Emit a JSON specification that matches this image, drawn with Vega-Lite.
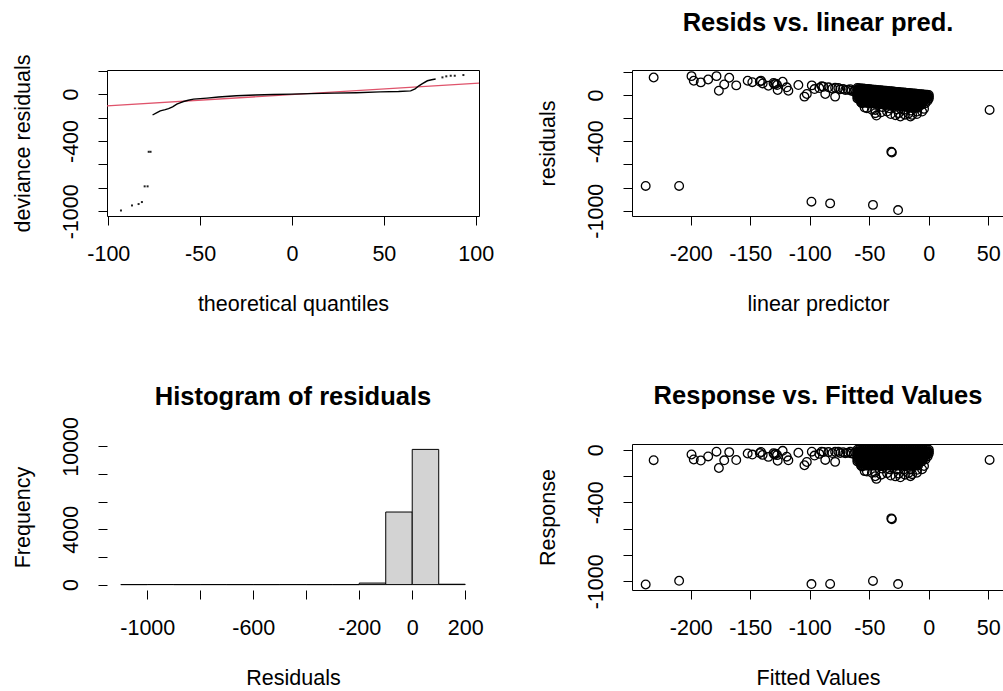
{
  "$schema": "https://vega.github.io/schema/vega-lite/v6.json",
  "background": "white",
  "padding": {"left": 11, "top": 10, "right": 0, "bottom": 0},
  "config": {
    "font": "Liberation Sans",
    "view": {"stroke": "black", "strokeWidth": 1},
    "axis": {"domain": false, "ticks": true, "tickColor": "black", "tickSize": 9, "tickWidth": 1, "labelFont": "Liberation Sans", "labelFontSize": 21.5, "labelColor": "black", "titleFont": "Liberation Sans", "titleFontSize": 21.5, "titleFontWeight": "normal", "titleColor": "black", "grid": false, "labelFlush": false, "labelOverlap": false, "labelBound": false},
    "axisX": {"labelBaseline": "middle", "labelAlign": "center", "labelAngle": 0, "labelPadding": 29, "titleY": 88, "titleBaseline": "middle"},
    "axisY": {"labelAngle": 270, "labelAlign": "center", "labelBaseline": "middle", "labelPadding": 27, "titleX": -84, "titleAngle": 270, "titleBaseline": "middle", "titleAlign": "center"},
    "title": {"font": "Liberation Sans", "fontSize": 25.5, "fontWeight": "bold", "color": "black", "frame": "group", "anchor": "middle", "baseline": "middle", "offset": 33}
  },
  "datasets": {
    "qqline": [{"q": -100.7, "r": -100}, {"q": 101.8, "r": 94.4}],
    "qqcurve": [
      {"q": -75.9, "r": -178}, {"q": -73.5, "r": -158}, {"q": -71.7, "r": -143}, {"q": -69, "r": -132}, {"q": -67.2, "r": -123}, {"q": -65, "r": -108}, {"q": -62.7, "r": -86}, {"q": -61, "r": -74}, {"q": -59, "r": -63}, {"q": -56.5, "r": -52}, {"q": -53.6, "r": -43}, {"q": -50, "r": -38}, {"q": -46.3, "r": -34}, {"q": -40, "r": -25}, {"q": -30.2, "r": -14}, {"q": -20, "r": -7}, {"q": -10, "r": -3}, {"q": 0, "r": 0}, {"q": 10, "r": 4}, {"q": 23, "r": 9}, {"q": 35, "r": 12}, {"q": 48, "r": 19}, {"q": 58, "r": 23}, {"q": 64.6, "r": 28}, {"q": 67, "r": 45}, {"q": 69.1, "r": 71}, {"q": 71, "r": 90}, {"q": 73.7, "r": 114}, {"q": 76, "r": 123}, {"q": 78.2, "r": 129}
    ],
    "qqdots": [
      {"q": -93.1, "r": -993}, {"q": -87.1, "r": -950}, {"q": -83.5, "r": -938}, {"q": -81.7, "r": -921}, {"q": -80.2, "r": -787}, {"q": -78.6, "r": -787}, {"q": -78, "r": -492}, {"q": -77, "r": -492}, {"q": 81.9, "r": 143}, {"q": 84, "r": 152}, {"q": 86.4, "r": 157}, {"q": 88.6, "r": 157}, {"q": 93.3, "r": 163}
    ],
    "hist": [
      {"lo": -1100, "hi": -1000, "n": 0}, {"lo": -1000, "hi": -900, "n": 5}, {"lo": -900, "hi": -800, "n": 0}, {"lo": -800, "hi": -700, "n": 2}, {"lo": -700, "hi": -600, "n": 0}, {"lo": -600, "hi": -500, "n": 0}, {"lo": -500, "hi": -400, "n": 2}, {"lo": -400, "hi": -300, "n": 0}, {"lo": -300, "hi": -200, "n": 0}, {"lo": -200, "hi": -100, "n": 110}, {"lo": -100, "hi": 0, "n": 5250}, {"lo": 0, "hi": 100, "n": 9780}, {"lo": 100, "hi": 200, "n": 25}
    ],
    "fit": [
      {"fit": -237.9, "resid": -786, "resp": -1024}, {"fit": -209.8, "resid": -786, "resp": -996}, {"fit": -231.2, "resid": 151, "resp": -80}, {"fit": -98.6, "resid": -922, "resp": -1021}, {"fit": -82.9, "resid": -937, "resp": -1020}, {"fit": -46.9, "resid": -950, "resp": -997}, {"fit": -25.8, "resid": -995, "resp": -1021}, {"fit": -31.5, "resid": -490, "resp": -522}, {"fit": -31, "resid": -497, "resp": -528}, {"fit": 51.1, "resid": -129, "resp": -78},
      {"fit": -199.4, "resid": 163, "resp": -36.4}, {"fit": -197.5, "resid": 123, "resp": -74.5}, {"fit": -191.6, "resid": 109, "resp": -82.6}, {"fit": -185.4, "resid": 134, "resp": -51.4}, {"fit": -178.4, "resid": 163, "resp": -15.4}, {"fit": -176.4, "resid": 37, "resp": -139.4}, {"fit": -171.9, "resid": 91, "resp": -80.9}, {"fit": -167.7, "resid": 149, "resp": -18.7}, {"fit": -161.8, "resid": 83, "resp": -78.8}, {"fit": -152.2, "resid": 123, "resp": -29.2}, {"fit": -148.3, "resid": 111, "resp": -37.3}, {"fit": -142, "resid": 116, "resp": -26}, {"fit": -141, "resid": 123, "resp": -18}, {"fit": -139.6, "resid": 100, "resp": -39.6}, {"fit": -134.8, "resid": 80, "resp": -54.8}, {"fit": -130.5, "resid": 104, "resp": -26.5}, {"fit": -129.8, "resid": 94, "resp": -35.8}, {"fit": -128.5, "resid": 98, "resp": -30.5}, {"fit": -127.5, "resid": 86, "resp": -41.5}, {"fit": -127, "resid": 43, "resp": -84}, {"fit": -122.8, "resid": 114, "resp": -8.8}, {"fit": -119.4, "resid": 66, "resp": -53.4}, {"fit": -118, "resid": 37, "resp": -81}, {"fit": -109.6, "resid": 86, "resp": -23.6}, {"fit": -104.5, "resid": -14, "resp": -118.5}, {"fit": -102.5, "resid": 9, "resp": -93.5}, {"fit": -98.3, "resid": 83, "resp": -15.3}, {"fit": -96, "resid": 51, "resp": -45}, {"fit": -92, "resid": 60, "resp": -32}, {"fit": -90, "resid": 75, "resp": -15}, {"fit": -88.5, "resid": 71, "resp": -17.5}, {"fit": -87, "resid": 9, "resp": -78}, {"fit": -84.3, "resid": 66, "resp": -18.3}, {"fit": -81, "resid": 55, "resp": -26}, {"fit": -78.7, "resid": -14, "resp": -92.7}, {"fit": -78.7, "resid": 63, "resp": -15.7}, {"fit": -76, "resid": 60, "resp": -16}, {"fit": -74.4, "resid": 49, "resp": -25.4}, {"fit": -72, "resid": 52, "resp": -20}, {"fit": -70.2, "resid": 43, "resp": -27.2}, {"fit": -68, "resid": 45, "resp": -23}, {"fit": -66, "resid": 50, "resp": -16}, {"fit": -65.2, "resid": 37, "resp": -28.2}, {"fit": -63, "resid": 30, "resp": -33}, {"fit": -62, "resid": 40, "resp": -22},
      {"fit": -60, "resid": 60, "resp": 0}, {"fit": -60, "resid": 30, "resp": -30}, {"fit": -60, "resid": 0, "resp": -60}, {"fit": -60, "resid": -30, "resp": -90},
      {"fit": -57, "resid": 57, "resp": 0}, {"fit": -57, "resid": 27, "resp": -30}, {"fit": -57, "resid": -3, "resp": -60}, {"fit": -57, "resid": -33, "resp": -90}, {"fit": -57, "resid": -63, "resp": -120},
      {"fit": -54, "resid": 54, "resp": 0}, {"fit": -54, "resid": 24, "resp": -30}, {"fit": -54, "resid": -6, "resp": -60}, {"fit": -54, "resid": -36, "resp": -90}, {"fit": -54, "resid": -66, "resp": -120},
      {"fit": -51, "resid": 51, "resp": 0}, {"fit": -51, "resid": 21, "resp": -30}, {"fit": -51, "resid": -9, "resp": -60}, {"fit": -51, "resid": -39, "resp": -90}, {"fit": -51, "resid": -69, "resp": -120},
      {"fit": -48, "resid": 48, "resp": 0}, {"fit": -48, "resid": 18, "resp": -30}, {"fit": -48, "resid": -12, "resp": -60}, {"fit": -48, "resid": -42, "resp": -90}, {"fit": -48, "resid": -72, "resp": -120},
      {"fit": -45, "resid": 45, "resp": 0}, {"fit": -45, "resid": 15, "resp": -30}, {"fit": -45, "resid": -15, "resp": -60}, {"fit": -45, "resid": -45, "resp": -90}, {"fit": -45, "resid": -75, "resp": -120},
      {"fit": -42, "resid": 42, "resp": 0}, {"fit": -42, "resid": 12, "resp": -30}, {"fit": -42, "resid": -18, "resp": -60}, {"fit": -42, "resid": -48, "resp": -90}, {"fit": -42, "resid": -78, "resp": -120},
      {"fit": -39, "resid": 39, "resp": 0}, {"fit": -39, "resid": 9, "resp": -30}, {"fit": -39, "resid": -21, "resp": -60}, {"fit": -39, "resid": -51, "resp": -90}, {"fit": -39, "resid": -81, "resp": -120}, {"fit": -39, "resid": -105, "resp": -144},
      {"fit": -36, "resid": 36, "resp": 0}, {"fit": -36, "resid": 6, "resp": -30}, {"fit": -36, "resid": -24, "resp": -60}, {"fit": -36, "resid": -54, "resp": -90}, {"fit": -36, "resid": -84, "resp": -120},
      {"fit": -33, "resid": 33, "resp": 0}, {"fit": -33, "resid": 3, "resp": -30}, {"fit": -33, "resid": -27, "resp": -60}, {"fit": -33, "resid": -57, "resp": -90}, {"fit": -33, "resid": -87, "resp": -120}, {"fit": -33, "resid": -115, "resp": -148},
      {"fit": -30, "resid": 30, "resp": 0}, {"fit": -30, "resid": 0, "resp": -30}, {"fit": -30, "resid": -30, "resp": -60}, {"fit": -30, "resid": -60, "resp": -90}, {"fit": -30, "resid": -90, "resp": -120},
      {"fit": -27, "resid": 27, "resp": 0}, {"fit": -27, "resid": -3, "resp": -30}, {"fit": -27, "resid": -33, "resp": -60}, {"fit": -27, "resid": -63, "resp": -90}, {"fit": -27, "resid": -93, "resp": -120}, {"fit": -27, "resid": -123, "resp": -150},
      {"fit": -24, "resid": 24, "resp": 0}, {"fit": -24, "resid": -6, "resp": -30}, {"fit": -24, "resid": -36, "resp": -60}, {"fit": -24, "resid": -66, "resp": -90}, {"fit": -24, "resid": -96, "resp": -120},
      {"fit": -21, "resid": 21, "resp": 0}, {"fit": -21, "resid": -9, "resp": -30}, {"fit": -21, "resid": -39, "resp": -60}, {"fit": -21, "resid": -69, "resp": -90}, {"fit": -21, "resid": -99, "resp": -120}, {"fit": -21, "resid": -129, "resp": -150},
      {"fit": -18, "resid": 18, "resp": 0}, {"fit": -18, "resid": -12, "resp": -30}, {"fit": -18, "resid": -42, "resp": -60}, {"fit": -18, "resid": -72, "resp": -90}, {"fit": -18, "resid": -102, "resp": -120},
      {"fit": -15, "resid": 15, "resp": 0}, {"fit": -15, "resid": -15, "resp": -30}, {"fit": -15, "resid": -45, "resp": -60}, {"fit": -15, "resid": -75, "resp": -90}, {"fit": -15, "resid": -105, "resp": -120}, {"fit": -15, "resid": -135, "resp": -150},
      {"fit": -12, "resid": 12, "resp": 0}, {"fit": -12, "resid": -18, "resp": -30}, {"fit": -12, "resid": -48, "resp": -60}, {"fit": -12, "resid": -78, "resp": -90}, {"fit": -12, "resid": -108, "resp": -120},
      {"fit": -9, "resid": 9, "resp": 0}, {"fit": -9, "resid": -21, "resp": -30}, {"fit": -9, "resid": -51, "resp": -60}, {"fit": -9, "resid": -81, "resp": -90}, {"fit": -9, "resid": -111, "resp": -120},
      {"fit": -6, "resid": 6, "resp": 0}, {"fit": -6, "resid": -24, "resp": -30}, {"fit": -6, "resid": -54, "resp": -60}, {"fit": -6, "resid": -84, "resp": -90},
      {"fit": -3, "resid": 3, "resp": 0}, {"fit": -3, "resid": -27, "resp": -30}, {"fit": -3, "resid": -57, "resp": -60},
      {"fit": 0, "resid": 0, "resp": 0}, {"fit": 0, "resid": -30, "resp": -30},
      {"fit": -58.5, "resid": 43.5, "resp": -15}, {"fit": -58.5, "resid": 13.5, "resp": -45}, {"fit": -58.5, "resid": -16.5, "resp": -75},
      {"fit": -55.5, "resid": 40.5, "resp": -15}, {"fit": -55.5, "resid": 10.5, "resp": -45}, {"fit": -55.5, "resid": -19.5, "resp": -75}, {"fit": -55.5, "resid": -49.5, "resp": -105},
      {"fit": -52.5, "resid": 37.5, "resp": -15}, {"fit": -52.5, "resid": 7.5, "resp": -45}, {"fit": -52.5, "resid": -22.5, "resp": -75}, {"fit": -52.5, "resid": -52.5, "resp": -105},
      {"fit": -49.5, "resid": 34.5, "resp": -15}, {"fit": -49.5, "resid": 4.5, "resp": -45}, {"fit": -49.5, "resid": -25.5, "resp": -75}, {"fit": -49.5, "resid": -55.5, "resp": -105},
      {"fit": -46.5, "resid": 31.5, "resp": -15}, {"fit": -46.5, "resid": 1.5, "resp": -45}, {"fit": -46.5, "resid": -28.5, "resp": -75}, {"fit": -46.5, "resid": -58.5, "resp": -105},
      {"fit": -43.5, "resid": 28.5, "resp": -15}, {"fit": -43.5, "resid": -1.5, "resp": -45}, {"fit": -43.5, "resid": -31.5, "resp": -75}, {"fit": -43.5, "resid": -61.5, "resp": -105},
      {"fit": -40.5, "resid": 25.5, "resp": -15}, {"fit": -40.5, "resid": -4.5, "resp": -45}, {"fit": -40.5, "resid": -34.5, "resp": -75}, {"fit": -40.5, "resid": -64.5, "resp": -105},
      {"fit": -37.5, "resid": 22.5, "resp": -15}, {"fit": -37.5, "resid": -7.5, "resp": -45}, {"fit": -37.5, "resid": -37.5, "resp": -75}, {"fit": -37.5, "resid": -67.5, "resp": -105},
      {"fit": -34.5, "resid": 19.5, "resp": -15}, {"fit": -34.5, "resid": -10.5, "resp": -45}, {"fit": -34.5, "resid": -40.5, "resp": -75}, {"fit": -34.5, "resid": -70.5, "resp": -105},
      {"fit": -31.5, "resid": 16.5, "resp": -15}, {"fit": -31.5, "resid": -13.5, "resp": -45}, {"fit": -31.5, "resid": -43.5, "resp": -75}, {"fit": -31.5, "resid": -73.5, "resp": -105},
      {"fit": -28.5, "resid": 13.5, "resp": -15}, {"fit": -28.5, "resid": -16.5, "resp": -45}, {"fit": -28.5, "resid": -46.5, "resp": -75}, {"fit": -28.5, "resid": -76.5, "resp": -105},
      {"fit": -25.5, "resid": 10.5, "resp": -15}, {"fit": -25.5, "resid": -19.5, "resp": -45}, {"fit": -25.5, "resid": -49.5, "resp": -75}, {"fit": -25.5, "resid": -79.5, "resp": -105},
      {"fit": -22.5, "resid": 7.5, "resp": -15}, {"fit": -22.5, "resid": -22.5, "resp": -45}, {"fit": -22.5, "resid": -52.5, "resp": -75}, {"fit": -22.5, "resid": -82.5, "resp": -105},
      {"fit": -19.5, "resid": 4.5, "resp": -15}, {"fit": -19.5, "resid": -25.5, "resp": -45}, {"fit": -19.5, "resid": -55.5, "resp": -75}, {"fit": -19.5, "resid": -85.5, "resp": -105},
      {"fit": -16.5, "resid": 1.5, "resp": -15}, {"fit": -16.5, "resid": -28.5, "resp": -45}, {"fit": -16.5, "resid": -58.5, "resp": -75}, {"fit": -16.5, "resid": -88.5, "resp": -105},
      {"fit": -13.5, "resid": -1.5, "resp": -15}, {"fit": -13.5, "resid": -31.5, "resp": -45}, {"fit": -13.5, "resid": -61.5, "resp": -75}, {"fit": -13.5, "resid": -91.5, "resp": -105},
      {"fit": -10.5, "resid": -4.5, "resp": -15}, {"fit": -10.5, "resid": -34.5, "resp": -45}, {"fit": -10.5, "resid": -64.5, "resp": -75}, {"fit": -10.5, "resid": -94.5, "resp": -105},
      {"fit": -7.5, "resid": -7.5, "resp": -15}, {"fit": -7.5, "resid": -37.5, "resp": -45}, {"fit": -7.5, "resid": -67.5, "resp": -75},
      {"fit": -4.5, "resid": -10.5, "resp": -15}, {"fit": -4.5, "resid": -40.5, "resp": -45},
      {"fit": -1.5, "resid": -13.5, "resp": -15},
      {"fit": -60, "resid": 45, "resp": -15}, {"fit": -60, "resid": 15, "resp": -45}, {"fit": -60, "resid": -15, "resp": -75},
      {"fit": -57, "resid": 42, "resp": -15}, {"fit": -57, "resid": 12, "resp": -45}, {"fit": -57, "resid": -18, "resp": -75}, {"fit": -57, "resid": -48, "resp": -105},
      {"fit": -54, "resid": 39, "resp": -15}, {"fit": -54, "resid": 9, "resp": -45}, {"fit": -54, "resid": -21, "resp": -75}, {"fit": -54, "resid": -51, "resp": -105},
      {"fit": -51, "resid": 36, "resp": -15}, {"fit": -51, "resid": 6, "resp": -45}, {"fit": -51, "resid": -24, "resp": -75}, {"fit": -51, "resid": -54, "resp": -105},
      {"fit": -48, "resid": 33, "resp": -15}, {"fit": -48, "resid": 3, "resp": -45}, {"fit": -48, "resid": -27, "resp": -75}, {"fit": -48, "resid": -57, "resp": -105},
      {"fit": -45, "resid": 30, "resp": -15}, {"fit": -45, "resid": 0, "resp": -45}, {"fit": -45, "resid": -30, "resp": -75}, {"fit": -45, "resid": -60, "resp": -105},
      {"fit": -42, "resid": 27, "resp": -15}, {"fit": -42, "resid": -3, "resp": -45}, {"fit": -42, "resid": -33, "resp": -75}, {"fit": -42, "resid": -63, "resp": -105},
      {"fit": -39, "resid": 24, "resp": -15}, {"fit": -39, "resid": -6, "resp": -45}, {"fit": -39, "resid": -36, "resp": -75}, {"fit": -39, "resid": -66, "resp": -105},
      {"fit": -36, "resid": 21, "resp": -15}, {"fit": -36, "resid": -9, "resp": -45}, {"fit": -36, "resid": -39, "resp": -75}, {"fit": -36, "resid": -69, "resp": -105},
      {"fit": -33, "resid": 18, "resp": -15}, {"fit": -33, "resid": -12, "resp": -45}, {"fit": -33, "resid": -42, "resp": -75}, {"fit": -33, "resid": -72, "resp": -105},
      {"fit": -30, "resid": 15, "resp": -15}, {"fit": -30, "resid": -15, "resp": -45}, {"fit": -30, "resid": -45, "resp": -75}, {"fit": -30, "resid": -75, "resp": -105},
      {"fit": -27, "resid": 12, "resp": -15}, {"fit": -27, "resid": -18, "resp": -45}, {"fit": -27, "resid": -48, "resp": -75}, {"fit": -27, "resid": -78, "resp": -105},
      {"fit": -24, "resid": 9, "resp": -15}, {"fit": -24, "resid": -21, "resp": -45}, {"fit": -24, "resid": -51, "resp": -75}, {"fit": -24, "resid": -81, "resp": -105},
      {"fit": -21, "resid": 6, "resp": -15}, {"fit": -21, "resid": -24, "resp": -45}, {"fit": -21, "resid": -54, "resp": -75}, {"fit": -21, "resid": -84, "resp": -105},
      {"fit": -18, "resid": 3, "resp": -15}, {"fit": -18, "resid": -27, "resp": -45}, {"fit": -18, "resid": -57, "resp": -75}, {"fit": -18, "resid": -87, "resp": -105},
      {"fit": -15, "resid": 0, "resp": -15}, {"fit": -15, "resid": -30, "resp": -45}, {"fit": -15, "resid": -60, "resp": -75}, {"fit": -15, "resid": -90, "resp": -105},
      {"fit": -12, "resid": -3, "resp": -15}, {"fit": -12, "resid": -33, "resp": -45}, {"fit": -12, "resid": -63, "resp": -75}, {"fit": -12, "resid": -93, "resp": -105},
      {"fit": -9, "resid": -6, "resp": -15}, {"fit": -9, "resid": -36, "resp": -45}, {"fit": -9, "resid": -66, "resp": -75}, {"fit": -9, "resid": -96, "resp": -105},
      {"fit": -6, "resid": -9, "resp": -15}, {"fit": -6, "resid": -39, "resp": -45}, {"fit": -6, "resid": -69, "resp": -75},
      {"fit": -3, "resid": -12, "resp": -15}, {"fit": -3, "resid": -42, "resp": -45},
      {"fit": 0, "resid": -15, "resp": -15},
      {"fit": -58.5, "resid": 58.5, "resp": 0}, {"fit": -58.5, "resid": 28.5, "resp": -30}, {"fit": -58.5, "resid": -1.5, "resp": -60}, {"fit": -58.5, "resid": -31.5, "resp": -90},
      {"fit": -55.5, "resid": 55.5, "resp": 0}, {"fit": -55.5, "resid": 25.5, "resp": -30}, {"fit": -55.5, "resid": -4.5, "resp": -60}, {"fit": -55.5, "resid": -34.5, "resp": -90}, {"fit": -55.5, "resid": -64.5, "resp": -120},
      {"fit": -52.5, "resid": 52.5, "resp": 0}, {"fit": -52.5, "resid": 22.5, "resp": -30}, {"fit": -52.5, "resid": -7.5, "resp": -60}, {"fit": -52.5, "resid": -37.5, "resp": -90}, {"fit": -52.5, "resid": -67.5, "resp": -120},
      {"fit": -49.5, "resid": 49.5, "resp": 0}, {"fit": -49.5, "resid": 19.5, "resp": -30}, {"fit": -49.5, "resid": -10.5, "resp": -60}, {"fit": -49.5, "resid": -40.5, "resp": -90}, {"fit": -49.5, "resid": -70.5, "resp": -120},
      {"fit": -46.5, "resid": 46.5, "resp": 0}, {"fit": -46.5, "resid": 16.5, "resp": -30}, {"fit": -46.5, "resid": -13.5, "resp": -60}, {"fit": -46.5, "resid": -43.5, "resp": -90}, {"fit": -46.5, "resid": -73.5, "resp": -120},
      {"fit": -43.5, "resid": 43.5, "resp": 0}, {"fit": -43.5, "resid": 13.5, "resp": -30}, {"fit": -43.5, "resid": -16.5, "resp": -60}, {"fit": -43.5, "resid": -46.5, "resp": -90}, {"fit": -43.5, "resid": -76.5, "resp": -120},
      {"fit": -40.5, "resid": 40.5, "resp": 0}, {"fit": -40.5, "resid": 10.5, "resp": -30}, {"fit": -40.5, "resid": -19.5, "resp": -60}, {"fit": -40.5, "resid": -49.5, "resp": -90}, {"fit": -40.5, "resid": -79.5, "resp": -120},
      {"fit": -37.5, "resid": 37.5, "resp": 0}, {"fit": -37.5, "resid": 7.5, "resp": -30}, {"fit": -37.5, "resid": -22.5, "resp": -60}, {"fit": -37.5, "resid": -52.5, "resp": -90}, {"fit": -37.5, "resid": -82.5, "resp": -120},
      {"fit": -34.5, "resid": 34.5, "resp": 0}, {"fit": -34.5, "resid": 4.5, "resp": -30}, {"fit": -34.5, "resid": -25.5, "resp": -60}, {"fit": -34.5, "resid": -55.5, "resp": -90}, {"fit": -34.5, "resid": -85.5, "resp": -120},
      {"fit": -31.5, "resid": 31.5, "resp": 0}, {"fit": -31.5, "resid": 1.5, "resp": -30}, {"fit": -31.5, "resid": -28.5, "resp": -60}, {"fit": -31.5, "resid": -58.5, "resp": -90}, {"fit": -31.5, "resid": -88.5, "resp": -120},
      {"fit": -28.5, "resid": 28.5, "resp": 0}, {"fit": -28.5, "resid": -1.5, "resp": -30}, {"fit": -28.5, "resid": -31.5, "resp": -60}, {"fit": -28.5, "resid": -61.5, "resp": -90}, {"fit": -28.5, "resid": -91.5, "resp": -120},
      {"fit": -25.5, "resid": 25.5, "resp": 0}, {"fit": -25.5, "resid": -4.5, "resp": -30}, {"fit": -25.5, "resid": -34.5, "resp": -60}, {"fit": -25.5, "resid": -64.5, "resp": -90}, {"fit": -25.5, "resid": -94.5, "resp": -120},
      {"fit": -22.5, "resid": 22.5, "resp": 0}, {"fit": -22.5, "resid": -7.5, "resp": -30}, {"fit": -22.5, "resid": -37.5, "resp": -60}, {"fit": -22.5, "resid": -67.5, "resp": -90}, {"fit": -22.5, "resid": -97.5, "resp": -120},
      {"fit": -19.5, "resid": 19.5, "resp": 0}, {"fit": -19.5, "resid": -10.5, "resp": -30}, {"fit": -19.5, "resid": -40.5, "resp": -60}, {"fit": -19.5, "resid": -70.5, "resp": -90}, {"fit": -19.5, "resid": -100.5, "resp": -120},
      {"fit": -16.5, "resid": 16.5, "resp": 0}, {"fit": -16.5, "resid": -13.5, "resp": -30}, {"fit": -16.5, "resid": -43.5, "resp": -60}, {"fit": -16.5, "resid": -73.5, "resp": -90}, {"fit": -16.5, "resid": -103.5, "resp": -120},
      {"fit": -13.5, "resid": 13.5, "resp": 0}, {"fit": -13.5, "resid": -16.5, "resp": -30}, {"fit": -13.5, "resid": -46.5, "resp": -60}, {"fit": -13.5, "resid": -76.5, "resp": -90}, {"fit": -13.5, "resid": -106.5, "resp": -120},
      {"fit": -10.5, "resid": 10.5, "resp": 0}, {"fit": -10.5, "resid": -19.5, "resp": -30}, {"fit": -10.5, "resid": -49.5, "resp": -60}, {"fit": -10.5, "resid": -79.5, "resp": -90}, {"fit": -10.5, "resid": -109.5, "resp": -120},
      {"fit": -7.5, "resid": 7.5, "resp": 0}, {"fit": -7.5, "resid": -22.5, "resp": -30}, {"fit": -7.5, "resid": -52.5, "resp": -60}, {"fit": -7.5, "resid": -82.5, "resp": -90},
      {"fit": -4.5, "resid": 4.5, "resp": 0}, {"fit": -4.5, "resid": -25.5, "resp": -30}, {"fit": -4.5, "resid": -55.5, "resp": -60},
      {"fit": -1.5, "resid": 1.5, "resp": 0}, {"fit": -1.5, "resid": -28.5, "resp": -30},
      {"fit": -56.2, "resid": -71, "resp": -127.2}, {"fit": -53.9, "resid": -109, "resp": -162.9}, {"fit": -52, "resid": -114, "resp": -166}, {"fit": -47.8, "resid": -128, "resp": -175.8}, {"fit": -45, "resid": -129, "resp": -174}, {"fit": -45, "resid": -157, "resp": -202}, {"fit": -44, "resid": -178, "resp": -222}, {"fit": -40, "resid": -150, "resp": -190}, {"fit": -35.1, "resid": -143, "resp": -178.1}, {"fit": -32, "resid": -165, "resp": -197}, {"fit": -28, "resid": -175, "resp": -203}, {"fit": -25.3, "resid": -157, "resp": -182.3}, {"fit": -23.9, "resid": -186, "resp": -209.9}, {"fit": -20, "resid": -170, "resp": -190}, {"fit": -17, "resid": -160, "resp": -177}, {"fit": -15.4, "resid": -186, "resp": -201.4}, {"fit": -14, "resid": -172, "resp": -186}, {"fit": -10, "resid": -165, "resp": -175}, {"fit": -9.8, "resid": -143, "resp": -152.8}, {"fit": -5.6, "resid": -143, "resp": -148.6}, {"fit": -4, "resid": -120, "resp": -124}, {"fit": -2.8, "resid": -71, "resp": -73.8}, {"fit": -1, "resid": -50, "resp": -51}
    ]
  },
  "columns": 2,
  "spacing": {"row": 228, "column": 153},
  "bounds": "flush",
  "concat": [
    {
      "width": 372, "height": 146,
      "layer": [
        {
          "data": {"name": "qqline"},
          "mark": {"type": "line", "color": "#DF536B", "strokeWidth": 1.3, "clip": true},
          "encoding": {
            "x": {"field": "q", "type": "quantitative", "scale": {"domain": [-100.7, 101.8], "nice": false, "zero": false}, "axis": {"values": [-100, -50, 0, 50, 100], "labelExpr": "'' + datum.value", "labelOverlap": false, "title": "theoretical quantiles"}},
            "y": {"field": "r", "type": "quantitative", "scale": {"domain": [-1040, 206], "nice": false, "zero": false}, "axis": {"values": [-1000, -800, -600, -400, -200, 0, 200], "labelExpr": "datum.value == 0 || datum.value == -400 || datum.value == -1000 ? '' + datum.value : ''", "labelOverlap": false, "title": "deviance residuals"}}
          }
        },
        {
          "data": {"name": "qqcurve"},
          "mark": {"type": "line", "color": "black", "strokeWidth": 1.4},
          "encoding": {
            "x": {"field": "q", "type": "quantitative", "axis": {"values": [-100, -50, 0, 50, 100], "labelExpr": "'' + datum.value", "labelOverlap": false, "title": "theoretical quantiles"}},
            "y": {"field": "r", "type": "quantitative", "axis": {"values": [-1000, -800, -600, -400, -200, 0, 200], "labelExpr": "datum.value == 0 || datum.value == -400 || datum.value == -1000 ? '' + datum.value : ''", "labelOverlap": false, "title": "deviance residuals"}}
          }
        },
        {
          "data": {"name": "qqdots"},
          "mark": {"type": "square", "color": "#222222", "size": 4, "filled": true, "opacity": 1},
          "encoding": {
            "x": {"field": "q", "type": "quantitative", "axis": {"values": [-100, -50, 0, 50, 100], "labelExpr": "'' + datum.value", "labelOverlap": false, "title": "theoretical quantiles"}},
            "y": {"field": "r", "type": "quantitative", "axis": {"values": [-1000, -800, -600, -400, -200, 0, 200], "labelExpr": "datum.value == 0 || datum.value == -400 || datum.value == -1000 ? '' + datum.value : ''", "labelOverlap": false, "title": "deviance residuals"}}
          }
        }
      ]
    },
    {
      "width": 372, "height": 146,
      "title": "Resids vs. linear pred.",
      "data": {"name": "fit"},
      "mark": {"type": "point", "shape": "circle", "filled": false, "stroke": "black", "strokeWidth": 1.3, "size": 75, "opacity": 1},
      "encoding": {
        "x": {"field": "fit", "type": "quantitative", "scale": {"domain": [-249.4, 63.2], "nice": false, "zero": false}, "axis": {"values": [-200, -150, -100, -50, 0, 50], "labelExpr": "'' + datum.value", "labelOverlap": false, "title": "linear predictor"}},
        "y": {"field": "resid", "type": "quantitative", "scale": {"domain": [-1046, 216], "nice": false, "zero": false}, "axis": {"values": [-1000, -800, -600, -400, -200, 0, 200], "labelExpr": "datum.value == 0 || datum.value == -400 || datum.value == -1000 ? '' + datum.value : ''", "labelOverlap": false, "title": "residuals"}}
      }
    },
    {
      "width": 372, "height": 146,
      "title": {"text": "Histogram of residuals", "offset": 6},
      "view": {"stroke": null},
      "layer": [
        {
          "data": {"name": "hist"},
          "mark": {"type": "bar", "fill": "#D3D3D3", "stroke": "black", "strokeWidth": 1},
          "encoding": {
            "x": {"field": "lo", "type": "quantitative", "scale": {"domain": [-1152, 252], "nice": false, "zero": false}, "axis": {"values": [-1000, -800, -600, -400, -200, 0, 200], "labelExpr": "datum.value == -800 || datum.value == -400 ? '' : '' + datum.value", "labelOverlap": false, "title": "Residuals"}},
            "x2": {"field": "hi"},
            "y": {"field": "n", "type": "quantitative", "scale": {"domain": [-391, 10171], "nice": false, "zero": false}, "axis": {"values": [0, 2000, 4000, 6000, 8000, 10000], "labelExpr": "datum.value == 0 || datum.value == 4000 || datum.value == 10000 ? '' + datum.value : ''", "labelOverlap": false, "title": "Frequency"}},
            "y2": {"datum": 0}
          }
        },
        {
          "mark": {"type": "rule", "color": "black", "strokeWidth": 1},
          "encoding": {
            "x": {"datum": -1000, "type": "quantitative", "axis": {"values": [-1000, -800, -600, -400, -200, 0, 200], "labelExpr": "datum.value == -800 || datum.value == -400 ? '' : '' + datum.value", "labelOverlap": false, "title": "Residuals"}},
            "x2": {"datum": 200},
            "y": {"datum": -391, "type": "quantitative", "axis": {"values": [0, 2000, 4000, 6000, 8000, 10000], "labelExpr": "datum.value == 0 || datum.value == 4000 || datum.value == 10000 ? '' + datum.value : ''", "labelOverlap": false, "title": "Frequency"}}
          }
        },
        {
          "mark": {"type": "rule", "color": "black", "strokeWidth": 1},
          "encoding": {
            "x": {"datum": -1152, "type": "quantitative", "axis": {"values": [-1000, -800, -600, -400, -200, 0, 200], "labelExpr": "datum.value == -800 || datum.value == -400 ? '' : '' + datum.value", "labelOverlap": false, "title": "Residuals"}},
            "y": {"datum": 0, "type": "quantitative", "axis": {"values": [0, 2000, 4000, 6000, 8000, 10000], "labelExpr": "datum.value == 0 || datum.value == 4000 || datum.value == 10000 ? '' + datum.value : ''", "labelOverlap": false, "title": "Frequency"}},
            "y2": {"datum": 10000}
          }
        }
      ]
    },
    {
      "width": 372, "height": 146,
      "title": "Response vs. Fitted Values",
      "data": {"name": "fit"},
      "mark": {"type": "point", "shape": "circle", "filled": false, "stroke": "black", "strokeWidth": 1.3, "size": 75, "opacity": 1},
      "encoding": {
        "x": {"field": "fit", "type": "quantitative", "scale": {"domain": [-249.4, 63.2], "nice": false, "zero": false}, "axis": {"values": [-200, -150, -100, -50, 0, 50], "labelExpr": "'' + datum.value", "labelOverlap": false, "title": "Fitted Values"}},
        "y": {"field": "resp", "type": "quantitative", "scale": {"domain": [-1066, 43], "nice": false, "zero": false}, "axis": {"values": [-1000, -800, -600, -400, -200, 0], "labelExpr": "datum.value == 0 || datum.value == -400 || datum.value == -1000 ? '' + datum.value : ''", "labelOverlap": false, "title": "Response"}}
      }
    }
  ]
}
